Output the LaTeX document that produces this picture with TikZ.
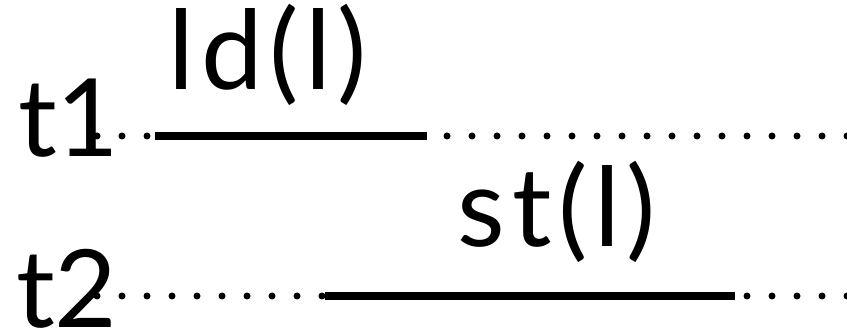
\documentclass[tikz,border=0pt]{standalone}
\usepackage{fontspec}
\setmainfont{Lato}
\newfontfamily\spacedfont[LetterSpace=6]{Lato}
\usepackage{tikz}

\tikzset{
    timeline/.style={line width=7pt, line cap=round, dash pattern=on 0pt off 25pt},
    access/.style={line width=8pt},
    thread/.style={inner sep=0pt, anchor=base west, font=\fontsize{108}{112}\selectfont},
    lbl/.style={inner sep=0pt, anchor=base, font=\spacedfont\fontsize{110}{114}\selectfont}
}

\begin{document}
\begin{tikzpicture}[x=1pt, y=1pt]
    \useasboundingbox (0, 0) rectangle (847, 335);

    % thread t1
    \node[thread] (t1) at (18, 178) {t1};
    \coordinate (t1s) at (97, 199);
    \coordinate (t1e) at (847, 199);
    \draw[timeline] (t1s) -- (t1e);

    % ld(l)
    \coordinate (lds) at (155, 199);
    \coordinate (lde) at (427, 199);
    \draw[access] (lds) -- (lde);
    \node[lbl] (ld) at (268, 245) {ld(l)};

    % thread t2
    \node[thread] (t2) at (16, 7) {t2};
    \coordinate (t2s) at (97, 39);
    \coordinate (t2e) at (847, 39);
    \draw[timeline] (t2s) -- (t2e);

    % st(l)
    \coordinate (sts) at (325, 39);
    \coordinate (ste) at (735, 39);
    \draw[access] (sts) -- (ste);
    \node[lbl] (st) at (557, 88) {st(l)};
\end{tikzpicture}
\end{document}
